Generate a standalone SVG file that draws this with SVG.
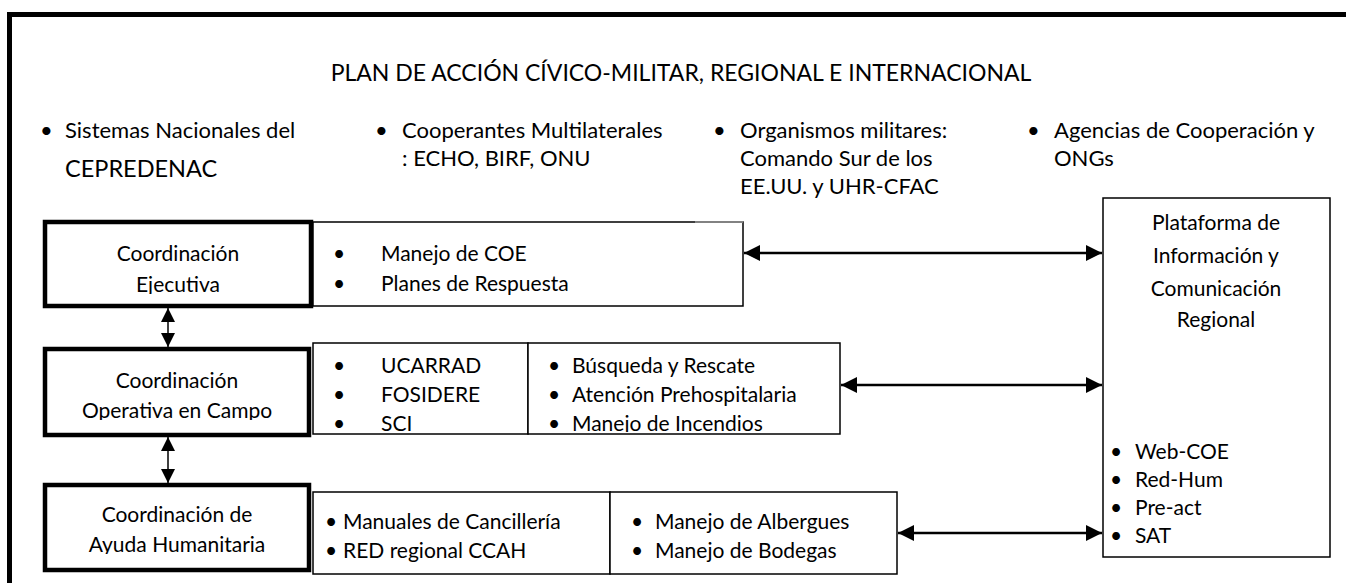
<svg xmlns="http://www.w3.org/2000/svg" width="1346" height="583" viewBox="0 0 1346 583">
<style>
text{font-family:Lato,"Open Sans","Liberation Sans",sans-serif;fill:#000}
.t{font-size:23px}
.r{font-size:22px}
.b{font-size:21px}
.c{font-size:21px;text-anchor:middle}
.thick{fill:#fff;stroke:#000;stroke-width:4.5}
.thin{fill:#fff;stroke:#000;stroke-width:1.5}
.ah{stroke:#000;stroke-width:2.5;fill:none}
.av{stroke:#000;stroke-width:1.5;fill:none}
</style>
<defs>
<marker id="mh" viewBox="0 0 10 10" refX="10" refY="5" markerWidth="6.4" markerHeight="6.4" orient="auto-start-reverse" markerUnits="strokeWidth"><path d="M0,0L10,5L0,10z" fill="#000"/></marker>
<marker id="mv" viewBox="0 0 10 10" refX="10" refY="5" markerWidth="9.5" markerHeight="10" orient="auto-start-reverse" markerUnits="strokeWidth"><path d="M0,0L10,5L0,10z" fill="#000"/></marker>
<clipPath id="cp1"><rect x="45" y="222" width="266" height="72"/></clipPath>
<clipPath id="cp2"><rect x="45" y="349" width="264" height="71"/></clipPath>
<clipPath id="cp3"><rect x="45" y="485" width="264" height="69"/></clipPath>
<clipPath id="cp4"><rect x="313" y="343" width="527" height="89"/></clipPath>
</defs>

<g id="frame">
<path d="M9.5,583V14.5H1346" fill="none" stroke="#000" stroke-width="5"/>
</g>

<g id="title">
<text class="t" x="681" y="81" text-anchor="middle">PLAN DE ACCIÓN CÍVICO-MILITAR, REGIONAL E INTERNACIONAL</text>
</g>

<g id="actors">
<text class="r" x="40" y="138">•</text>
<text class="r" x="65" y="138">Sistemas Nacionales del</text>
<text x="65" y="177" style="font-size:23.5px">CEPREDENAC</text>
<text class="r" x="375" y="138">•</text>
<text class="r" x="402" y="138">Cooperantes Multilaterales</text>
<text class="r" x="402" y="166">: ECHO, BIRF, ONU</text>
<text class="r" x="713" y="138">•</text>
<text class="r" x="740" y="138">Organismos militares:</text>
<text class="r" x="740" y="166">Comando Sur de los</text>
<text class="r" x="740" y="194">EE.UU. y UHR-CFAC</text>
<text class="r" x="1027" y="138">•</text>
<text class="r" x="1054" y="138">Agencias de Cooperación y</text>
<text class="r" x="1054" y="166">ONGs</text>
</g>

<g id="coord-ejecutiva">
<rect class="thick" x="45" y="222" width="266" height="84"/>
<g clip-path="url(#cp1)">
<text class="c" x="178" y="261">Coordinación</text>
<text class="c" x="178" y="292">Ejecutiva</text>
</g>
</g>

<g id="ejecutiva-tareas">
<rect class="thin" x="313" y="222" width="430" height="84"/>
<line x1="695" y1="222" x2="743" y2="222" stroke="#9a9a9a" stroke-width="1.5"/>
<text class="b" x="333" y="261">•</text>
<text class="b" x="381" y="261">Manejo de COE</text>
<text class="b" x="333" y="291">•</text>
<text class="b" x="381" y="291">Planes de Respuesta</text>
</g>

<g id="coord-operativa">
<rect class="thick" x="45" y="349" width="264" height="86"/>
<g clip-path="url(#cp2)">
<text class="c" x="177" y="388">Coordinación</text>
<text class="c" x="177" y="418">Operativa en Campo</text>
</g>
</g>

<g id="operativa-sistemas">
<rect class="thin" x="313" y="343" width="215" height="91"/>
<g clip-path="url(#cp4)">
<text class="b" x="333" y="373">•</text>
<text class="b" x="381" y="373">UCARRAD</text>
<text class="b" x="333" y="402">•</text>
<text class="b" x="381" y="402">FOSIDERE</text>
<text class="b" x="333" y="431">•</text>
<text class="b" x="381" y="431">SCI</text>
</g>
</g>

<g id="operativa-tareas">
<rect class="thin" x="528" y="343" width="312" height="91"/>
<g clip-path="url(#cp4)">
<text class="b" x="548" y="373">•</text>
<text class="b" x="572" y="373">Búsqueda y Rescate</text>
<text class="b" x="548" y="402">•</text>
<text class="b" x="572" y="402">Atención Prehospitalaria</text>
<text class="b" x="548" y="431">•</text>
<text class="b" x="572" y="431">Manejo de Incendios</text>
</g>
</g>

<g id="coord-humanitaria">
<rect class="thick" x="45" y="485" width="264" height="85"/>
<g clip-path="url(#cp3)">
<text class="c" x="177" y="522">Coordinación de</text>
<text class="c" x="177" y="552">Ayuda Humanitaria</text>
</g>
</g>

<g id="humanitaria-red">
<rect class="thin" x="313" y="492" width="297" height="82"/>
<text class="b" x="325" y="529">•</text>
<text class="b" x="343" y="529">Manuales de Cancillería</text>
<text class="b" x="325" y="558">•</text>
<text class="b" x="343" y="558">RED regional CCAH</text>
</g>

<g id="humanitaria-tareas">
<rect class="thin" x="610" y="492" width="287" height="82"/>
<text class="b" x="631" y="529">•</text>
<text class="b" x="655" y="529">Manejo de Albergues</text>
<text class="b" x="631" y="558">•</text>
<text class="b" x="655" y="558">Manejo de Bodegas</text>
</g>

<g id="plataforma">
<rect class="thin" x="1103" y="198" width="227" height="359" stroke-width="2"/>
<text class="c" x="1216" y="230">Plataforma de</text>
<text class="c" x="1216" y="263">Información y</text>
<text class="c" x="1216" y="296">Comunicación</text>
<text class="c" x="1216" y="327">Regional</text>
<text class="b" x="1110" y="459">•</text>
<text class="b" x="1135" y="459">Web-COE</text>
<text class="b" x="1110" y="487">•</text>
<text class="b" x="1135" y="487">Red-Hum</text>
<text class="b" x="1110" y="515">•</text>
<text class="b" x="1135" y="515">Pre-act</text>
<text class="b" x="1110" y="543">•</text>
<text class="b" x="1135" y="543">SAT</text>
</g>

<g id="connectors">
<line class="ah" x1="744" y1="253" x2="1102" y2="253" marker-start="url(#mh)" marker-end="url(#mh)"/>
<line class="ah" x1="841" y1="385" x2="1102" y2="385" marker-start="url(#mh)" marker-end="url(#mh)"/>
<line class="ah" x1="898" y1="533" x2="1102" y2="533" marker-start="url(#mh)" marker-end="url(#mh)"/>
<line class="av" x1="168" y1="308" x2="168" y2="347" marker-start="url(#mv)" marker-end="url(#mv)"/>
<line class="av" x1="168" y1="437" x2="168" y2="483" marker-start="url(#mv)" marker-end="url(#mv)"/>
</g>
</svg>
